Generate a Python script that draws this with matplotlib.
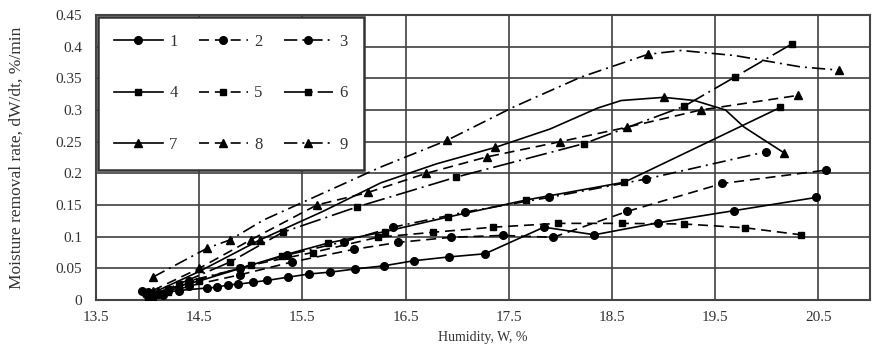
import matplotlib
matplotlib.use("Agg")
import matplotlib.pyplot as plt

plt.rcParams['font.family'] = ['Liberation Serif', 'DejaVu Serif']

# ---- data ----
x1 = [13.95, 14.1, 14.3, 14.58, 14.67, 14.78, 14.88, 15.02, 15.16, 15.36, 15.56, 15.77, 16.01, 16.29, 16.58, 16.92, 17.27, 17.84, 18.33, 18.95, 19.68, 20.48]
y1 = [0.015, 0.01, 0.015, 0.019, 0.02, 0.024, 0.025, 0.028, 0.031, 0.036, 0.041, 0.044, 0.049, 0.054, 0.062, 0.068, 0.073, 0.115, 0.103, 0.122, 0.141, 0.162]

x2 = [14.0, 14.15, 14.4, 14.9, 15.4, 16.0, 16.43, 16.94, 17.44, 17.93, 18.65, 19.57, 20.57]
y2 = [0.012, 0.008, 0.022, 0.04, 0.06, 0.08, 0.091, 0.099, 0.102, 0.099, 0.14, 0.184, 0.205]

x3 = [13.98, 14.2, 14.4, 14.9, 15.35, 15.9, 16.38, 17.08, 17.89, 18.83, 19.99]
y3 = [0.01, 0.015, 0.03, 0.05, 0.071, 0.092, 0.115, 0.139, 0.162, 0.191, 0.234]

x4 = [14.02, 14.2, 14.5, 14.9, 15.3, 15.75, 16.3, 16.91, 17.67, 18.62, 20.13]
y4 = [0.005, 0.018, 0.03, 0.05, 0.07, 0.09, 0.108, 0.131, 0.158, 0.186, 0.304]

x5 = [14.05, 14.2, 14.4, 15.0, 15.6, 16.23, 16.77, 17.35, 17.98, 18.6, 19.2, 19.79, 20.33]
y5 = [0.005, 0.012, 0.028, 0.055, 0.075, 0.099, 0.107, 0.115, 0.121, 0.121, 0.12, 0.114, 0.103]

x6 = [14.0, 14.3, 14.8, 15.31, 16.03, 16.99, 18.23, 19.2, 19.69, 20.24]
y6 = [0.005, 0.025, 0.06, 0.107, 0.147, 0.194, 0.247, 0.306, 0.352, 0.404]

x7 = [14.1, 14.5, 15.09, 15.7, 16.26, 16.8, 17.37, 17.9, 18.36, 18.59, 19.0, 19.3, 19.6, 19.78, 20.17]
y7 = [0.015, 0.045, 0.095, 0.14, 0.185, 0.215, 0.241, 0.27, 0.303, 0.315, 0.32, 0.315, 0.30, 0.273, 0.232]

x8 = [14.05, 14.5, 15.0, 15.64, 16.14, 16.7, 17.29, 18.0, 18.65, 19.36, 20.3]
y8 = [0.015, 0.05, 0.095, 0.15, 0.17, 0.2, 0.226, 0.25, 0.273, 0.30, 0.323]

x9 = [14.05, 14.58, 14.8, 15.12, 16.26, 16.9, 17.55, 18.2, 18.85, 19.17, 19.69, 20.33, 20.7]
y9 = [0.036, 0.082, 0.095, 0.126, 0.21, 0.252, 0.305, 0.352, 0.388, 0.394, 0.386, 0.368, 0.363]

labels = ['1', '2', '3', '4', '5', '6', '7', '8', '9']
xticks = [13.5, 14.5, 15.5, 16.5, 17.5, 18.5, 19.5, 20.5]
yticks = [0, 0.05, 0.1, 0.15, 0.2, 0.25, 0.3, 0.35, 0.4, 0.45]
ytick_labels = ['0', '0.05', '0.1', '0.15', '0.2', '0.25', '0.3', '0.35', '0.4', '0.45']

# ---- style ----
solid = '-'
dashed = (0, (6, 3.5))
dashdot = (0, (8, 3, 1.2, 3))
longdashdot = (0, (13, 3, 1.2, 3))

series = [
    (x1, y1, solid, 'o', 5.5, None),
    (x2, y2, dashed, 'o', 5.5, None),
    (x3, y3, dashdot, 'o', 5.5, None),
    (x4, y4, solid, 's', 5, None),
    (x5, y5, dashed, 's', 5, None),
    (x6, y6, longdashdot, 's', 5, None),
    (x7, y7, solid, '^', 6, [0, 2, 6, 10, 14]),
    (x8, y8, dashed, '^', 6, None),
    (x9, y9, dashdot, '^', 6, [0, 1, 2, 5, 8, 12]),
]

fig = plt.figure(figsize=(8.72, 3.57), dpi=100)
ax = fig.add_axes([96 / 872, 1 - 300 / 357, 774 / 872, 285 / 357])

handles = []
for (xs, ys, ls, mk, ms, me), lab in zip(series, labels):
    h, = ax.plot(xs, ys, color='black', lw=1.2, linestyle=ls, marker=mk,
                 markersize=ms, markevery=me, label=lab, zorder=3)
    handles.append(h)

ax.set_xlim(13.5, 21.0)
ax.set_ylim(0, 0.45)
ax.set_xticks(xticks)
ax.set_xticklabels([str(t) for t in xticks])
ax.set_yticks(yticks)
ax.set_yticklabels(ytick_labels)
ax.grid(True, color='#404040', lw=1.2, zorder=0)
ax.set_axisbelow(True)
ax.tick_params(axis='both', length=0, labelsize=11, colors='#333333', pad=8)
ax.tick_params(axis='y', pad=10)
for s in ax.spines.values():
    s.set_color('#444444')
    s.set_linewidth(1.5)

ax.set_xlabel('Humidity, W, %', fontsize=10, color='#333333', labelpad=5)
ax.set_ylabel('Moisture removal rate, dW/dt, %/min', fontsize=12.5, color='#333333')
ax.yaxis.set_label_coords(-0.092, 0.5)

# legend laid out row-wise: 1 2 3 / 4 5 6 / 7 8 9
order = [0, 3, 6, 1, 4, 7, 2, 5, 8]
leg = ax.legend(handles=[handles[i] for i in order], labels=[labels[i] for i in order],
                ncol=3, loc='upper left', bbox_to_anchor=(0.002, 0.993),
                borderaxespad=0, fontsize=12, frameon=True, fancybox=False,
                handlelength=2.9, handletextpad=0.4, columnspacing=1.3,
                labelspacing=2.15, borderpad=1.0, framealpha=1)
leg.get_frame().set_edgecolor('#333333')
leg.get_frame().set_linewidth(1.8)
for t in leg.get_texts():
    t.set_color('#333333')

fig.savefig('out.png', dpi=100)
